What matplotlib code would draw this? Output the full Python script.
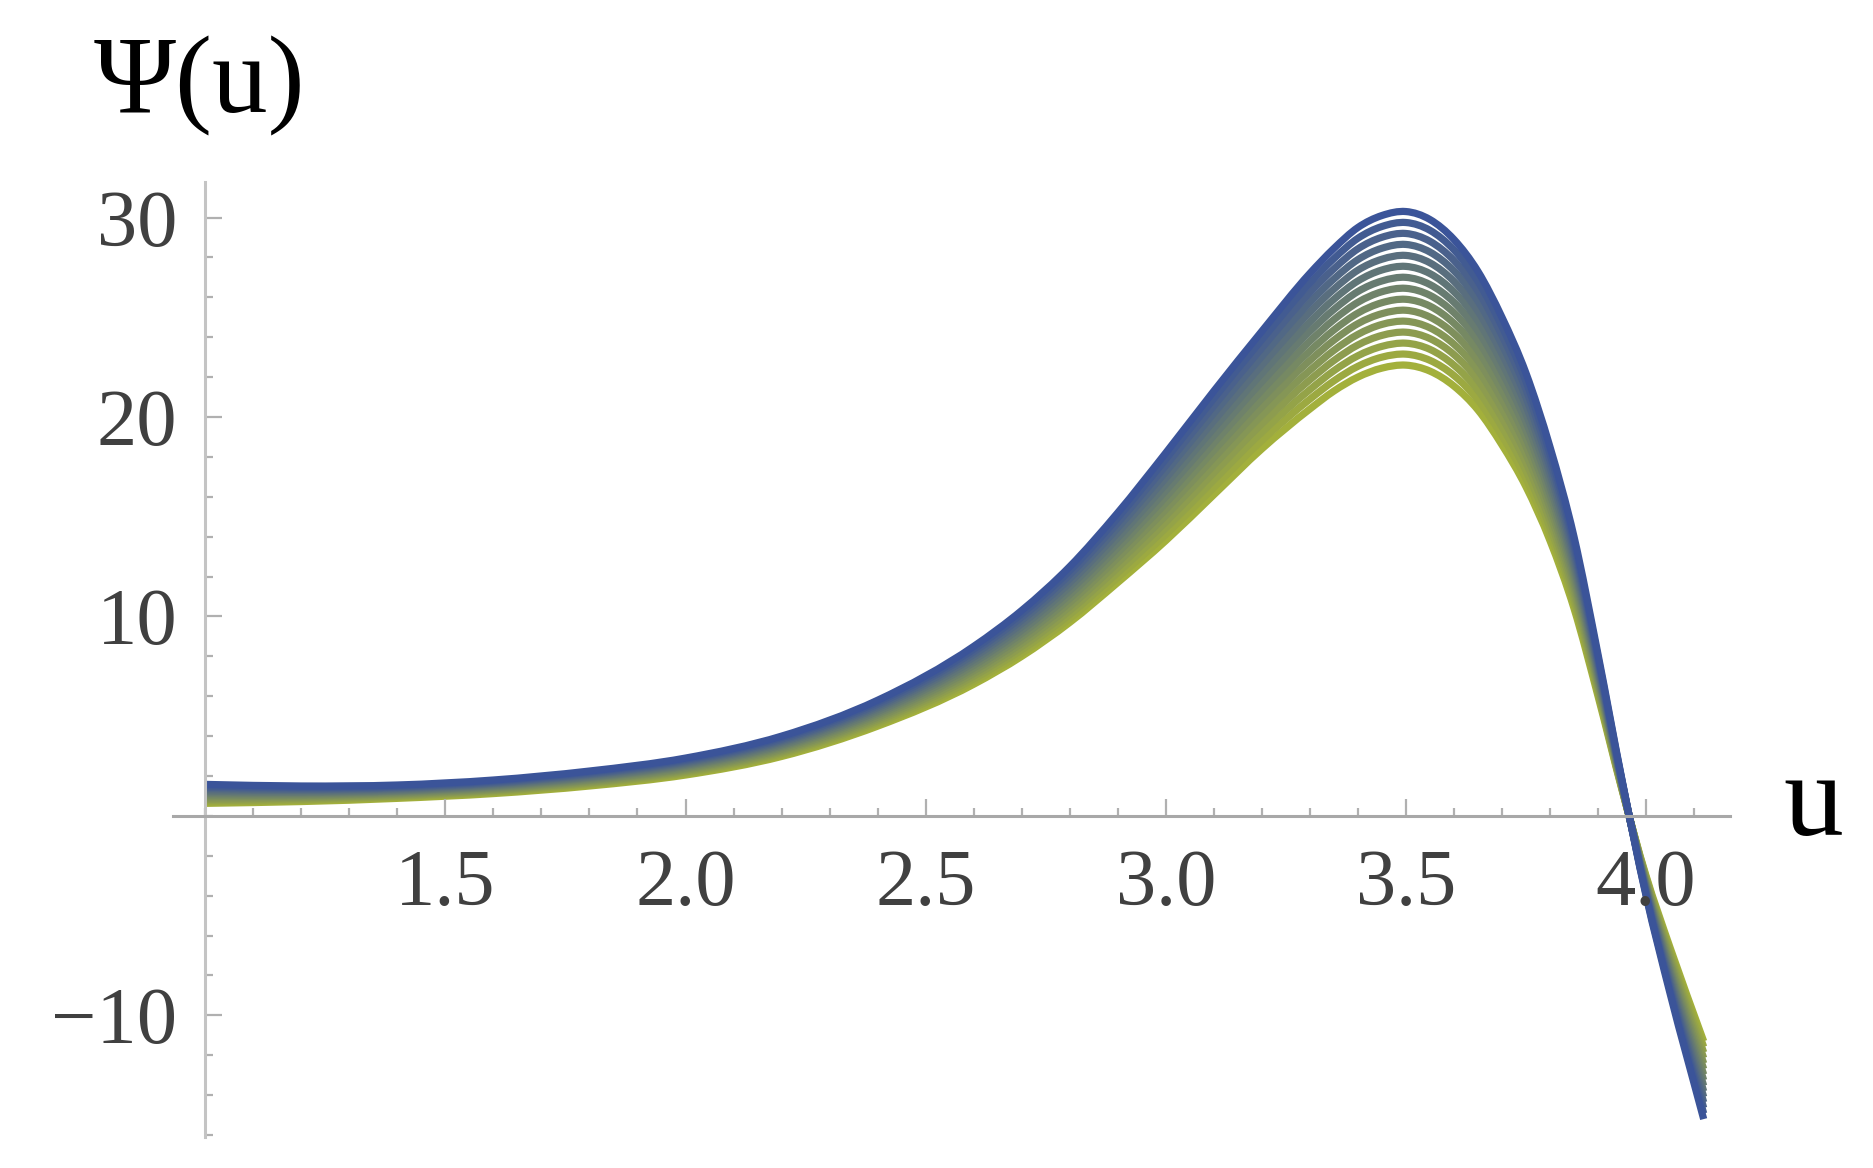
import numpy as np
import matplotlib.pyplot as plt
from matplotlib.path import Path
from matplotlib.patches import PathPatch
from matplotlib.ticker import MultipleLocator

plt.rcParams['font.family'] = 'serif'
plt.rcParams['font.serif'] = ['Liberation Serif', 'DejaVu Serif']

# sample points along u
u = [1.0, 1.2, 1.4, 1.6, 1.8, 2.0, 2.2, 2.4, 2.6, 2.7, 2.8, 2.9, 3.0, 3.1, 3.2,
     3.3, 3.35, 3.4, 3.45, 3.5, 3.55, 3.6, 3.65, 3.7, 3.75, 3.8, 3.85, 3.9,
     3.95, 4.0, 4.05, 4.12]

# Psi(u) at each u, one value per curve (yellow-green first ... blue last)
psi = [
    [0.63, 0.70, 0.77, 0.83, 0.90, 0.97, 1.04, 1.11, 1.17, 1.24, 1.31, 1.38, 1.44, 1.51, 1.58],
    [0.72, 0.78, 0.83, 0.89, 0.94, 1.00, 1.05, 1.11, 1.17, 1.22, 1.28, 1.33, 1.39, 1.44, 1.50],
    [0.88, 0.93, 0.98, 1.02, 1.07, 1.12, 1.17, 1.22, 1.26, 1.31, 1.36, 1.41, 1.45, 1.50, 1.55],
    [1.12, 1.17, 1.22, 1.27, 1.31, 1.36, 1.41, 1.46, 1.51, 1.56, 1.61, 1.65, 1.70, 1.75, 1.80],
    [1.50, 1.55, 1.61, 1.66, 1.71, 1.77, 1.82, 1.88, 1.93, 1.98, 2.04, 2.09, 2.14, 2.20, 2.25],
    [2.05, 2.11, 2.17, 2.23, 2.29, 2.35, 2.41, 2.48, 2.54, 2.60, 2.66, 2.72, 2.78, 2.84, 2.90],
    [2.98, 3.05, 3.13, 3.20, 3.27, 3.34, 3.42, 3.49, 3.56, 3.64, 3.71, 3.78, 3.85, 3.93, 4.00],
    [4.50, 4.59, 4.69, 4.78, 4.87, 4.96, 5.06, 5.15, 5.24, 5.34, 5.43, 5.52, 5.61, 5.71, 5.80],
    [6.60, 6.74, 6.87, 7.01, 7.14, 7.28, 7.41, 7.55, 7.69, 7.82, 7.96, 8.09, 8.23, 8.36, 8.50],
    [8.00, 8.16, 8.33, 8.49, 8.66, 8.82, 8.99, 9.15, 9.31, 9.48, 9.64, 9.81, 9.97, 10.14, 10.30],
    [9.70, 9.90, 10.10, 10.30, 10.50, 10.70, 10.90, 11.10, 11.30, 11.50, 11.70, 11.90, 12.10, 12.30, 12.50],
    [11.70, 11.95, 12.20, 12.45, 12.70, 12.95, 13.20, 13.45, 13.70, 13.95, 14.20, 14.45, 14.70, 14.95, 15.20],
    [13.80, 14.11, 14.43, 14.74, 15.06, 15.37, 15.69, 16.00, 16.31, 16.63, 16.94, 17.26, 17.57, 17.89, 18.20],
    [16.10, 16.47, 16.84, 17.21, 17.59, 17.96, 18.33, 18.70, 19.07, 19.44, 19.81, 20.19, 20.56, 20.93, 21.30],
    [18.40, 18.82, 19.24, 19.66, 20.09, 20.51, 20.93, 21.35, 21.77, 22.19, 22.61, 23.04, 23.46, 23.88, 24.30],
    [20.40, 20.89, 21.37, 21.86, 22.34, 22.83, 23.31, 23.80, 24.29, 24.77, 25.26, 25.74, 26.23, 26.71, 27.20],
    [21.30, 21.81, 22.32, 22.83, 23.34, 23.85, 24.36, 24.88, 25.39, 25.90, 26.41, 26.92, 27.43, 27.94, 28.45],
    [22.00, 22.54, 23.07, 23.61, 24.14, 24.68, 25.21, 25.75, 26.29, 26.82, 27.36, 27.89, 28.43, 28.96, 29.50],
    [22.45, 23.00, 23.54, 24.09, 24.64, 25.18, 25.73, 26.28, 26.82, 27.37, 27.91, 28.46, 29.01, 29.55, 30.10],
    [22.60, 23.15, 23.70, 24.25, 24.80, 25.35, 25.90, 26.45, 27.00, 27.55, 28.10, 28.65, 29.20, 29.75, 30.30],
    [22.30, 22.84, 23.39, 23.93, 24.47, 25.01, 25.56, 26.10, 26.64, 27.19, 27.73, 28.27, 28.81, 29.36, 29.90],
    [21.55, 22.08, 22.60, 23.13, 23.65, 24.18, 24.70, 25.23, 25.75, 26.28, 26.80, 27.33, 27.85, 28.38, 28.90],
    [20.35, 20.85, 21.34, 21.84, 22.34, 22.83, 23.33, 23.83, 24.32, 24.82, 25.31, 25.81, 26.31, 26.80, 27.30],
    [18.60, 19.06, 19.51, 19.97, 20.43, 20.89, 21.34, 21.80, 22.26, 22.71, 23.17, 23.63, 24.09, 24.54, 25.00],
    [16.50, 16.91, 17.31, 17.72, 18.13, 18.54, 18.94, 19.35, 19.76, 20.16, 20.57, 20.98, 21.39, 21.79, 22.20],
    [13.80, 14.14, 14.47, 14.81, 15.14, 15.48, 15.81, 16.15, 16.49, 16.82, 17.16, 17.49, 17.83, 18.16, 18.50],
    [10.40, 10.66, 10.91, 11.17, 11.43, 11.69, 11.94, 12.20, 12.46, 12.71, 12.97, 13.23, 13.49, 13.74, 14.00],
    [6.00, 6.15, 6.30, 6.45, 6.60, 6.75, 6.90, 7.05, 7.20, 7.35, 7.50, 7.65, 7.80, 7.95, 8.10],
    [1.30, 1.34, 1.37, 1.41, 1.44, 1.48, 1.51, 1.55, 1.59, 1.62, 1.66, 1.69, 1.73, 1.76, 1.80],
    [-3.00, -3.07, -3.14, -3.21, -3.29, -3.36, -3.43, -3.50, -3.57, -3.64, -3.71, -3.79, -3.86, -3.93, -4.00],
    [-6.60, -6.76, -6.93, -7.09, -7.26, -7.42, -7.59, -7.75, -7.91, -8.08, -8.24, -8.41, -8.57, -8.74, -8.90],
    [-11.30, -11.58, -11.86, -12.14, -12.41, -12.69, -12.97, -13.25, -13.53, -13.81, -14.09, -14.36, -14.64, -14.92, -15.20],
]

x_ticks = [1.5, 2.0, 2.5, 3.0, 3.5, 4.0]
y_ticks = [-10, 10, 20, 30]


def smooth_path(x, y):
    # cubic Bezier segments through the sample points (Hermite slopes)
    x = np.asarray(x, float)
    y = np.asarray(y, float)
    h = np.diff(x)
    d = np.diff(y) / h
    m = np.empty_like(y)
    m[1:-1] = (d[:-1] * h[1:] + d[1:] * h[:-1]) / (h[:-1] + h[1:])
    m[0] = d[0]
    m[-1] = d[-1]
    verts = [(x[0], y[0])]
    codes = [Path.MOVETO]
    for i in range(len(h)):
        verts += [(x[i] + h[i] / 3, y[i] + m[i] * h[i] / 3),
                  (x[i + 1] - h[i] / 3, y[i + 1] - m[i + 1] * h[i] / 3),
                  (x[i + 1], y[i + 1])]
        codes += [Path.CURVE4] * 3
    return Path(verts, codes)


curves = np.array(psi).T
yellow = np.array([0.64, 0.69, 0.23])
blue = np.array([0.23, 0.33, 0.60])

fig = plt.figure(figsize=(18.73, 11.68), dpi=100)
ax = fig.add_axes([0.0924, 0.0265, 0.8313, 0.818])

n = len(curves)
for k, c in enumerate(curves):
    t = k / (n - 1)
    ax.add_patch(PathPatch(smooth_path(u, c), facecolor='none',
                           edgecolor=yellow * (1 - t) + blue * t, lw=5.2,
                           capstyle='butt', joinstyle='round'))

ax.set_xlim(0.933, 4.175)
ax.set_ylim(-16.1, 31.8)

# axes crossing at (1, 0)
ax.spines['left'].set_position(('data', 1.0))
ax.spines['bottom'].set_position(('data', 0.0))
ax.spines['top'].set_visible(False)
ax.spines['right'].set_visible(False)
ax.spines['left'].set_color('#c4c4c4')
ax.spines['bottom'].set_color('#a8a8a8')
ax.spines['left'].set_linewidth(2.2)
ax.spines['bottom'].set_linewidth(2.2)

ax.set_xticks(x_ticks)
ax.set_xticklabels([f'{v:.1f}' for v in x_ticks])
ax.set_yticks(y_ticks)
ax.set_yticklabels([f'{v:d}'.replace('-', '\u2212') for v in y_ticks])
ax.xaxis.set_minor_locator(MultipleLocator(0.1))
ax.yaxis.set_minor_locator(MultipleLocator(2))

ax.tick_params(which='both', direction='in', color='#b0b0b0', width=1.6)
ax.tick_params(which='major', length=12)
ax.tick_params(which='minor', length=6)
ax.tick_params(axis='x', pad=24, labelsize=58, labelcolor='#404040')
ax.tick_params(axis='y', pad=20, labelsize=58, labelcolor='#404040')

fig.text(94 / 1873, 1 - 112 / 1168, '\u03a8(u)', fontsize=80,
         color='black', va='baseline', ha='left')
fig.text(1783 / 1873, 1 - 835 / 1168, 'u', fontsize=86,
         color='black', va='baseline', ha='left')

fig.savefig('out.png', dpi=100)
